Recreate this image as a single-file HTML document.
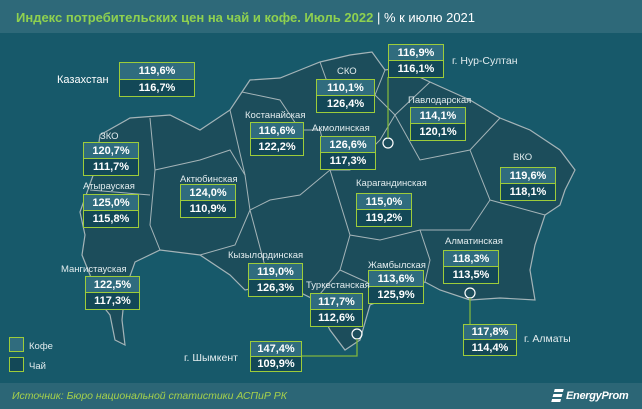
<!DOCTYPE html>
<html><head><meta charset="utf-8"><style>
body{margin:0;width:642px;height:409px;overflow:hidden;background:#17596a;font-family:"Liberation Sans",sans-serif;position:relative}
.hd{position:absolute;left:0;top:0;width:642px;height:33px;background:#2e6979}
.ft{position:absolute;left:0;top:383px;width:642px;height:26px;background:#2c6676}
.t{position:absolute;white-space:nowrap}
.lb{position:absolute;font-size:9.5px;color:#e2ecee;white-space:nowrap}
.bx{position:absolute;border:1px solid #9dcc3a;box-sizing:border-box}
.bx div{height:50%;display:flex;align-items:center;justify-content:center;color:#fff;font-weight:bold;font-size:11px;box-sizing:border-box}
.bx div:first-child{background:#306c7e;border-bottom:1px solid #9dcc3a}
.bx div:last-child{background:#134857}
</style></head><body>
<div class="hd"></div>
<div class="t" style="left:16px;top:10px;font-size:13px;font-weight:bold;color:#8fd14f">Индекс потребительских цен на чай и кофе. Июль 2022 <span style="color:#fff;font-weight:normal">| % к июлю 2021</span></div>
<svg style="position:absolute;left:0;top:0" width="642" height="409">
<path d="M80,212 L95,170 L100,135 L130,118 L170,115 L200,130 L230,110 L242,92 L250,80 L280,78 L300,70 L320,62 L350,55 L372,52 L385,70 L400,68 L430,82 L470,100 L500,118 L530,130 L560,150 L575,170 L565,190 L560,205 L545,215 L535,245 L530,270 L535,300 L500,298 L470,300 L440,290 L425,282 L410,288 L395,295 L370,305 L360,340 L345,350 L330,330 L315,300 L295,290 L270,285 L245,290 L230,275 L200,255 L160,250 L135,262 L125,290 L122,320 L125,345 L115,340 L110,315 L98,300 L90,275 L82,255 L85,235 Z" fill="#1c4d5b" stroke="#a4b4b8" stroke-width="1.2"/>
<g fill="none" stroke="#a4b4b8" stroke-width="1">
<path d="M150,118 L155,170 L150,225 L160,250"/>
<path d="M90,190 L150,195"/>
<path d="M155,170 L200,160 L230,150 L245,175 L250,210 L235,245 L200,255"/>
<path d="M230,110 L245,175"/>
<path d="M242,92 L280,100 L300,130 L320,130 L330,170 L300,195 L270,200 L250,210"/>
<path d="M320,62 L330,90 L375,95 L385,70"/>
<path d="M375,95 L395,115 L380,140 L350,170 L330,170"/>
<path d="M395,115 L430,82 M395,115 L420,160 L470,150 L500,118"/>
<path d="M470,150 L490,200 L470,230 L420,230 L380,240 L350,235 L330,170"/>
<path d="M490,200 L545,215"/>
<path d="M420,230 L430,260 L425,282"/>
<path d="M350,235 L340,270 L315,300 M340,270 L395,295"/>
<path d="M250,210 L270,285"/>
</g>
<circle cx="388" cy="143" r="5" fill="none" stroke="#fff" stroke-width="1.2"/>
<circle cx="357" cy="334" r="5" fill="none" stroke="#fff" stroke-width="1.2"/>
<circle cx="470" cy="293" r="5" fill="none" stroke="#fff" stroke-width="1.2"/>
<g stroke="#7fb53e" stroke-width="1.3" fill="none">
<path d="M388,138 L388,77"/>
<path d="M357,339 L357,356 L302,356"/>
<path d="M470,298 L470,324"/>
</g>
</svg>
<div class="lb" style="left:57px;top:74px;font-size:11px;color:#fff">Казахстан</div>
<div class="bx" style="left:119px;top:62px;width:76px;height:35px"><div>119,6%</div><div>116,7%</div></div>
<div class="lb" style="left:337px;top:66px">СКО</div>
<div class="bx" style="left:316px;top:79px;width:59px;height:34px"><div>110,1%</div><div>126,4%</div></div>
<div class="bx" style="left:388px;top:44px;width:56px;height:34px"><div>116,9%</div><div>116,1%</div></div>
<div class="lb" style="left:452px;top:55px;font-size:10.5px">г. Нур-Султан</div>
<div class="lb" style="left:408px;top:95px">Павлодарская</div>
<div class="bx" style="left:410px;top:107px;width:56px;height:34px"><div>114,1%</div><div>120,1%</div></div>
<div class="lb" style="left:245px;top:110px">Костанайская</div>
<div class="bx" style="left:250px;top:122px;width:54px;height:34px"><div>116,6%</div><div>122,2%</div></div>
<div class="lb" style="left:312px;top:123px">Акмолинская</div>
<div class="bx" style="left:320px;top:136px;width:56px;height:34px"><div>126,6%</div><div>117,3%</div></div>
<div class="lb" style="left:100px;top:131px">ЗКО</div>
<div class="bx" style="left:83px;top:142px;width:56px;height:34px"><div>120,7%</div><div>111,7%</div></div>
<div class="lb" style="left:83px;top:181px">Атырауская</div>
<div class="bx" style="left:83px;top:194px;width:56px;height:34px"><div>125,0%</div><div>115,8%</div></div>
<div class="lb" style="left:180px;top:174px">Актюбинская</div>
<div class="bx" style="left:180px;top:184px;width:56px;height:34px"><div>124,0%</div><div>110,9%</div></div>
<div class="lb" style="left:356px;top:178px">Карагандинская</div>
<div class="bx" style="left:356px;top:193px;width:56px;height:34px"><div>115,0%</div><div>119,2%</div></div>
<div class="lb" style="left:513px;top:152px">ВКО</div>
<div class="bx" style="left:500px;top:167px;width:56px;height:34px"><div>119,6%</div><div>118,1%</div></div>
<div class="lb" style="left:61px;top:264px">Мангистауская</div>
<div class="bx" style="left:85px;top:276px;width:55px;height:34px"><div>122,5%</div><div>117,3%</div></div>
<div class="lb" style="left:228px;top:250px">Кызылординская</div>
<div class="bx" style="left:248px;top:263px;width:55px;height:34px"><div>119,0%</div><div>126,3%</div></div>
<div class="lb" style="left:368px;top:260px">Жамбылская</div>
<div class="bx" style="left:368px;top:270px;width:56px;height:34px"><div>113,6%</div><div>125,9%</div></div>
<div class="lb" style="left:445px;top:236px">Алматинская</div>
<div class="bx" style="left:443px;top:250px;width:56px;height:34px"><div>118,3%</div><div>113,5%</div></div>
<div class="lb" style="left:306px;top:280px">Туркестанская</div>
<div class="bx" style="left:310px;top:293px;width:53px;height:34px"><div>117,7%</div><div>112,6%</div></div>
<div class="lb" style="left:184px;top:352px;font-size:10.5px">г. Шымкент</div>
<div class="bx" style="left:250px;top:341px;width:52px;height:31px"><div>147,4%</div><div>109,9%</div></div>
<div class="bx" style="left:463px;top:324px;width:54px;height:32px"><div>117,8%</div><div>114,4%</div></div>
<div class="lb" style="left:524px;top:333px;font-size:10.5px">г. Алматы</div>
<div class="bx" style="left:9px;top:337px;width:15px;height:15px;background:#306c7e"></div>
<div class="bx" style="left:9px;top:357px;width:15px;height:15px;background:#134857"></div>
<div class="lb" style="left:29px;top:341px">Кофе</div>
<div class="lb" style="left:29px;top:361px">Чай</div>
<div class="ft"></div>
<div class="t" style="left:12px;top:390px;font-size:10.5px;font-style:italic;color:#a6d14b">Источник: Бюро национальной статистики АСПиР РК</div>
<div class="t" style="left:566px;top:390px;font-size:11px;font-style:italic;font-weight:bold;color:#fff;letter-spacing:-0.3px">EnergyProm</div>
<div style="position:absolute;left:553px;top:389px;width:9px;height:13px;background:repeating-linear-gradient(#fff 0 3px,transparent 3px 5px);transform:skewX(-15deg)"></div>
</body></html>
